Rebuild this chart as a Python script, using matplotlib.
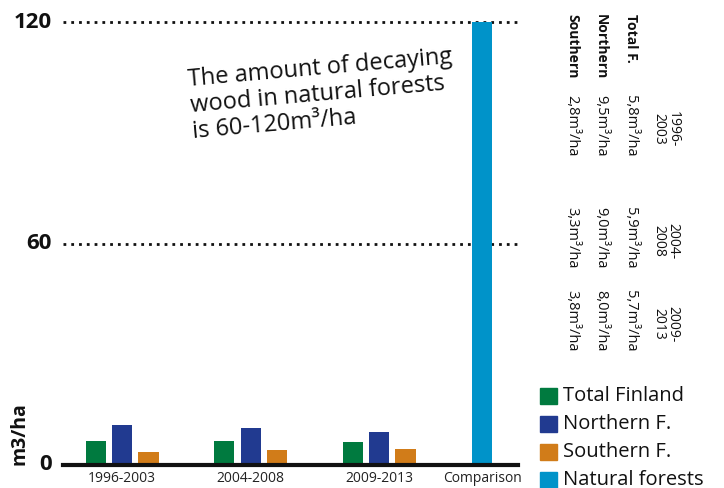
import matplotlib
matplotlib.use("Agg")
import matplotlib.pyplot as plt
from matplotlib.patches import Rectangle

plt.rcParams['font.family'] = ['Open Sans', 'DejaVu Sans']

periods = ['1996-2003', '2004-2008', '2009-2013']
comparison_label = 'Comparison'
total_finland = [6.6, 6.6, 6.3]
northern_f = [10.7, 10.1, 9.0]
southern_f = [3.6, 4.1, 4.4]
natural_forests = 120
yticks = [0, 60, 120]
legend_labels = ['Total Finland', 'Northern F.', 'Southern F.', 'Natural forests']
table_headers = ['1996-\n2003', '2004-\n2008', '2009-\n2013']
table_rows = ['Total F.', 'Northern', 'Southern']
table_total = ['5,8m³/ha', '5,9m³/ha', '5,7m³/ha']
table_north = ['9,5m³/ha', '9,0m³/ha', '8,0m³/ha']
table_south = ['2,8m³/ha', '3,3m³/ha', '3,8m³/ha']

colors = ['#007a3f', '#213a90', '#d17c19', '#0093c9']

W, H = 724, 488
fig = plt.figure(figsize=(W / 100, H / 100), dpi=100)

def fx(px):
    return px / W

def fy(py):
    return 1 - py / H

ax_left, ax_right, ax_bot, ax_top = 63, 518, 465, 22
ax = fig.add_axes([fx(ax_left), fy(ax_bot), fx(ax_right) - fx(ax_left), fy(ax_top) - fy(ax_bot)])

x = [0, 1, 2]
off = 0.205
bw = 0.158
ax.bar([i - off for i in x], total_finland, bw, color=colors[0])
ax.bar(x, northern_f, bw, color=colors[1])
ax.bar([i + off for i in x], southern_f, bw, color=colors[2])
comp_x = 2.8
ax.bar([comp_x], [natural_forests], bw, color=colors[3])

ax.set_xlim(-0.46, 3.08)
ax.set_ylim(0, 120)
for s in ax.spines.values():
    s.set_visible(False)
ax.set_yticks([])
ax.set_xticks(x + [comp_x])
ax.set_xticklabels(periods + [comparison_label], fontsize=10, color='#222222')
ax.tick_params(axis='x', length=0, pad=4)

for v in yticks[1:]:
    ax.axhline(v, color='#111111', linestyle=(0, (1, 1.8)), linewidth=2.0, zorder=0, clip_on=False)
ax.axhline(0, color='#111111', linewidth=3, zorder=3, clip_on=False)

# y tick labels
for v in yticks:
    ax.text(-0.55, v, str(v), fontsize=16, fontweight='bold', ha='right', va='center', color='#111111')

fig.text(fx(19), fy(434), 'm3/ha', rotation=90, fontsize=14, fontweight='bold', ha='center', va='center', color='#111111')

# annotation
fig.text(fx(190), fy(106), 'The amount of decaying\nwood in natural forests\nis 60-120m³/ha',
         rotation=5, fontsize=17, ha='left', va='center', linespacing=1.1, color='#111111',
         rotation_mode='anchor')

# rotated table
row_y = [95, 207, 290]
for name, cx in zip(table_rows, [631, 601, 572]):
    fig.text(fx(cx), fy(14), name, rotation=-90, fontsize=10, fontweight='bold', ha='center', va='top', color='#111111')
for i, hdr in enumerate(table_headers):
    fig.text(fx(666), fy(row_y[i] + 16), hdr, rotation=-90, fontsize=10, ha='center', va='top', linespacing=0.9, color='#111111')
    fig.text(fx(631), fy(row_y[i]), table_total[i], rotation=-90, fontsize=10.5, ha='center', va='top', color='#111111')
    fig.text(fx(601), fy(row_y[i]), table_north[i], rotation=-90, fontsize=10.5, ha='center', va='top', color='#111111')
    fig.text(fx(572), fy(row_y[i]), table_south[i], rotation=-90, fontsize=10.5, ha='center', va='top', color='#111111')

# legend
for i, (lab, c) in enumerate(zip(legend_labels, colors)):
    cy = 396 + 28 * i
    fig.patches.append(Rectangle((fx(540), fy(cy + 8)), 17 / W, 16 / H, transform=fig.transFigure, color=c))
    fig.text(fx(563), fy(cy), lab, fontsize=14.5, ha='left', va='center', color='#111111')

fig.savefig('out.png', dpi=100)
